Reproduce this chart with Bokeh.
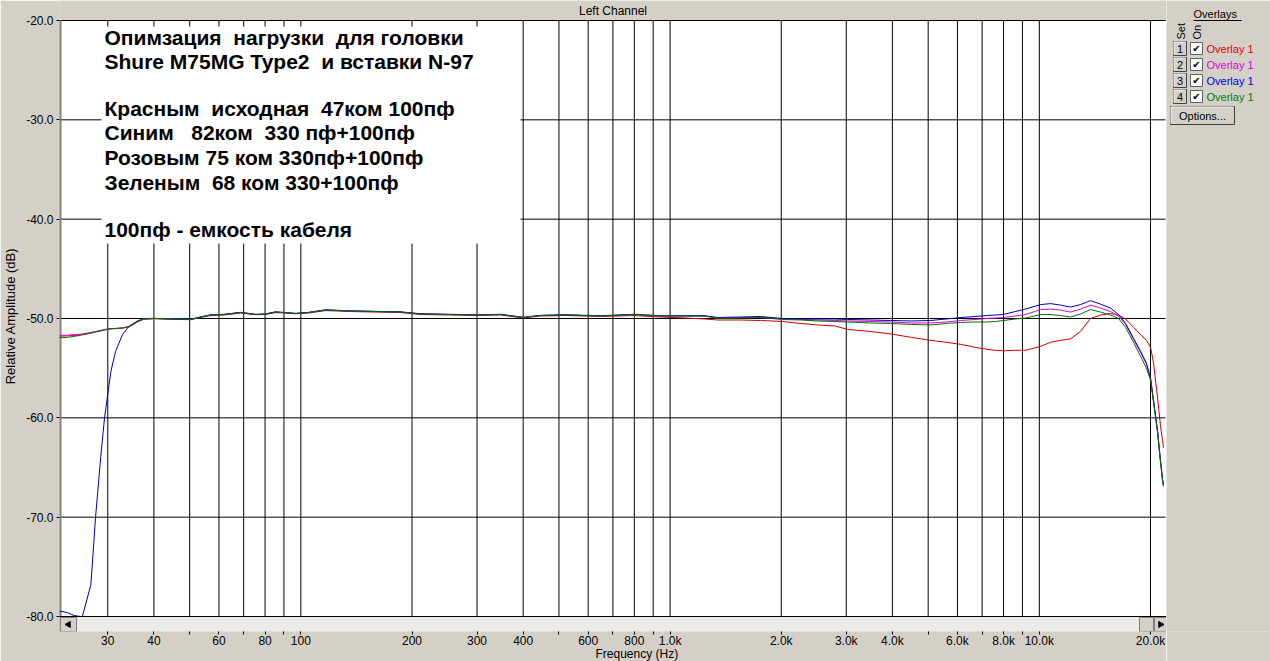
import math
from bokeh.plotting import figure
from bokeh.layouts import row
from bokeh.models import ColumnDataSource, FixedTicker, Label, Title
from bokeh.core.properties import value
from bokeh.embed import file_html
from bokeh.resources import INLINE

# ---------------- data ----------------
freq_hz = [
    22.2, 23.3, 24.3, 25.3, 25.6, 27.0, 27.8, 28.7, 29.4, 30.0,
    30.6, 31.5, 32.9, 34.3, 36.1, 37.5, 40.0, 45.0, 50.3, 53.5,
    57.0, 62.0, 68.7, 75.5, 80.0, 85.5, 96.8, 105, 116.8, 136.4,
    160, 186, 211, 254.5, 300, 347.6, 400, 446, 520, 648,
    800, 942, 1100, 1240, 1345, 1550, 1758, 2018, 2258, 2500,
    2791, 3027, 3472, 3958, 4500, 5077, 5600, 6120, 6700, 7195,
    7612, 8000, 8600, 9180, 10080, 10725, 11400, 12150, 12930, 13760,
    14650, 15590, 16390, 17120, 18000, 18800, 19500, 20010, 20390, 20900,
    21290, 21560, 21690,
]

red_db = [
    -51.78, -51.75, -51.70, -51.65, -51.60, -51.45, -51.35, -51.25, -51.15, -51.10,
    -51.05, -51.02, -50.97, -50.85, -50.35, -50.08, -50.02, -50.08, -50.12, -49.90,
    -49.70, -49.65, -49.45, -49.62, -49.60, -49.40, -49.52, -49.45, -49.20, -49.30,
    -49.35, -49.40, -49.60, -49.65, -49.70, -49.65, -49.95, -49.75, -49.70, -49.80,
    -49.70, -49.85, -49.95, -50.05, -50.15, -50.15, -50.20, -50.30, -50.50, -50.65,
    -50.75, -51.10, -51.30, -51.55, -51.90, -52.20, -52.40, -52.60, -52.90, -53.10,
    -53.20, -53.25, -53.20, -53.20, -52.80, -52.40, -52.20, -52.05, -51.30, -50.00,
    -49.65, -49.50, -49.65, -50.05, -50.90, -51.60, -52.20, -52.90, -54.50, -58.00,
    -60.80, -62.30, -63.00,
]

pink_db = [
    -51.70, -51.68, -51.63, -51.58, -51.55, -51.40, -51.30, -51.20, -51.10, -51.05,
    -51.00, -51.00, -50.95, -50.80, -50.30, -50.05, -50.00, -50.05, -50.10, -49.85,
    -49.65, -49.60, -49.40, -49.60, -49.55, -49.35, -49.50, -49.40, -49.15, -49.25,
    -49.30, -49.35, -49.55, -49.60, -49.65, -49.60, -49.90, -49.70, -49.65, -49.75,
    -49.60, -49.75, -49.75, -49.75, -49.95, -49.90, -49.85, -50.05, -50.10, -50.15,
    -50.20, -50.25, -50.30, -50.35, -50.45, -50.45, -50.35, -50.20, -50.10, -50.00,
    -49.95, -49.90, -49.75, -49.60, -49.10, -49.05, -49.15, -49.35, -49.05, -48.65,
    -48.95, -49.30, -49.75, -50.60, -52.10, -53.40, -54.60, -56.05, -58.35, -61.35,
    -64.35, -66.25, -66.85,
]

blue_db = [
    -79.45, -79.60, -79.90, -80.00, -80.00, -76.80, -70.00, -64.00, -60.00, -57.60,
    -55.30, -53.30, -51.60, -50.75, -50.25, -50.00, -49.98, -50.05, -50.08, -49.85,
    -49.62, -49.58, -49.38, -49.58, -49.55, -49.33, -49.48, -49.38, -49.13, -49.23,
    -49.28, -49.33, -49.52, -49.58, -49.62, -49.58, -49.88, -49.68, -49.62, -49.72,
    -49.58, -49.72, -49.72, -49.72, -49.90, -49.85, -49.80, -50.00, -50.05, -50.05,
    -50.05, -50.10, -50.15, -50.20, -50.25, -50.20, -50.05, -49.90, -49.80, -49.70,
    -49.65, -49.60, -49.30, -49.05, -48.60, -48.50, -48.65, -48.85, -48.60, -48.20,
    -48.55, -48.95, -49.60, -50.50, -52.00, -53.30, -54.50, -56.00, -58.30, -61.30,
    -64.30, -66.20, -66.80,
]

green_db = [
    -51.95, -51.90, -51.80, -51.70, -51.65, -51.48, -51.35, -51.25, -51.15, -51.08,
    -51.02, -51.00, -50.95, -50.80, -50.30, -50.05, -50.00, -50.05, -50.10, -49.85,
    -49.65, -49.60, -49.40, -49.60, -49.55, -49.35, -49.50, -49.40, -49.15, -49.25,
    -49.30, -49.35, -49.55, -49.60, -49.65, -49.60, -49.90, -49.70, -49.65, -49.75,
    -49.60, -49.75, -49.75, -49.75, -50.00, -49.95, -49.90, -50.10, -50.15, -50.25,
    -50.30, -50.35, -50.45, -50.50, -50.60, -50.65, -50.50, -50.40, -50.35, -50.35,
    -50.30, -50.20, -50.05, -49.95, -49.60, -49.60, -49.70, -49.85, -49.55, -49.10,
    -49.35, -49.65, -50.00, -50.90, -52.40, -53.80, -55.00, -56.20, -58.50, -61.50,
    -64.50, -66.30, -66.90,
]

x_ticks = [30, 40, 50, 60, 70, 80, 90, 100, 200, 300, 400, 500, 600, 700, 800, 900,
           1000, 2000, 3000, 4000, 5000, 6000, 7000, 8000, 9000, 10000, 20000]
x_tick_labels = ["30", "40", "", "60", "", "80", "", "100", "200", "300", "400", "",
                 "600", "", "800", "", "1.0k", "2.0k", "3.0k", "4.0k", "", "6.0k", "",
                 "8.0k", "", "10.0k", "20.0k"]
y_ticks = [-80, -70, -60, -50, -40, -30, -20]
y_tick_labels = ["-80.0", "-70.0", "-60.0", "-50.0", "-40.0", "-30.0", "-20.0"]
h_grid_db = [-80, -70, -60, -50, -40, -30, -20]

title_text = "Left Channel"
x_label = "Frequency (Hz)"
y_label = "Relative Amplitude (dB)"
NB = "\u00a0"
note_lines = [
    "Опимзация " + NB + "нагрузки " + NB + "для головки",
    "Shure M75MG Type2 " + NB + "и вставки N-97",
    "Красным " + NB + "исходная " + NB + "47ком 100пф",
    "Синим " + NB + NB + "82ком " + NB + "330 пф+100пф",
    "Розовым 75 ком 330пф+100пф",
    "Зеленым " + NB + "68 ком 330+100пф",
    "100пф - емкость кабеля",
]
overlay_sets = ["1", "2", "3", "4"]
overlay_names = ["Overlay 1", "Overlay 1", "Overlay 1", "Overlay 1"]

# ---------------- styling / layout ----------------
RED, PINK, BLUE, GREEN = "#CC0000", "#DD00DD", "#0000B0", "#007000"
TEXT_COLORS = ["#E00000", "#E000E0", "#0000D0", "#008000"]
GRAY = "#D4D0C8"
FONT = "Liberation Sans"

X_START, X_END = 22.2, 22100.0
FRAME_LEFT, FRAME_RIGHT = 59, 1166
TOP_PX, BOT_PX, SCROLL_BOT = 20, 616, 631
PX_PER_DB = (BOT_PX - TOP_PX) / 60.0
Y_END = -20.0 + TOP_PX / PX_PER_DB
Y_START = -80.0 - (SCROLL_BOT - BOT_PX) / PX_PER_DB
PX_PER_DEC = (FRAME_RIGHT - FRAME_LEFT) / math.log10(X_END / X_START)


def hz(px):
    return X_START * 10 ** ((px - FRAME_LEFT) / PX_PER_DEC)


def db(py):
    return -20.0 - (py - TOP_PX) / PX_PER_DB


p = figure(x_axis_type="log", x_range=(X_START, X_END), y_range=(Y_START, Y_END),
           width=FRAME_RIGHT, height=661,
           min_border_left=FRAME_LEFT, min_border_right=0, min_border_top=0,
           min_border_bottom=661 - SCROLL_BOT,
           output_backend="svg", toolbar_location=None,
           background_fill_color=GRAY, border_fill_color=GRAY)
p.title.visible = False
p.grid.visible = False
p.outline_line_color = None

# axes
p.xaxis.ticker = FixedTicker(ticks=x_ticks)
p.xaxis.major_label_overrides = {t: l for t, l in zip(x_ticks, x_tick_labels)}
p.xaxis.axis_line_color = None
p.xaxis.major_tick_in = 0
p.xaxis.major_tick_out = 3
p.xaxis.minor_tick_out = 0
p.xaxis.minor_tick_in = 0
p.xaxis.major_label_standoff = -1

p.yaxis.ticker = FixedTicker(ticks=y_ticks)
p.yaxis.major_label_overrides = {t: l for t, l in zip(y_ticks, y_tick_labels)}
p.yaxis.axis_line_color = None
p.yaxis.major_tick_in = 0
p.yaxis.major_tick_out = 3
p.yaxis.minor_tick_out = 0
p.yaxis.minor_tick_in = 0
p.yaxis.major_label_standoff = 3
p.yaxis.axis_label = y_label
p.yaxis.axis_label_standoff = 5

for ax in (p.xaxis, p.yaxis):
    ax.major_label_text_font = FONT
    ax.major_label_text_font_size = "12px"
    ax.major_label_text_color = "black"
    ax.axis_label_text_font = FONT
    ax.axis_label_text_font_size = "13px"
    ax.axis_label_text_font_style = "normal"
    ax.axis_label_text_color = "black"
    ax.major_tick_line_color = "black"

p.add_layout(Title(text=x_label, align="left", offset=536, standoff=-11,
                   text_font=FONT, text_font_size="12px", text_font_style="normal",
                   text_color="black"), "below")

# plot area background, borders and grid lines
p.quad(left=[X_START], right=[X_END], bottom=[-80.0], top=[-20.0],
       fill_color="white", line_color=None)
p.segment(x0=x_ticks, y0=[-80] * len(x_ticks), x1=x_ticks, y1=[-20] * len(x_ticks),
          line_color="black", line_width=1)
p.segment(x0=[X_START] * len(h_grid_db), y0=h_grid_db, x1=[X_END] * len(h_grid_db), y1=h_grid_db,
          line_color="black", line_width=1)
p.segment(x0=[X_START], y0=[Y_START], x1=[X_START], y1=[-20.0], line_color="#808080", line_width=4)
p.segment(x0=[X_END], y0=[Y_START], x1=[X_END], y1=[-20.0], line_color="white", line_width=2)

# white note box
p.quad(left=[hz(101)], right=[hz(520)], bottom=[db(243)], top=[db(26)],
       fill_color="white", line_color=None)

# curves
src = ColumnDataSource(dict(f=freq_hz, r=red_db, m=pink_db, b=blue_db, g=green_db))
p.line("f", "r", source=src, line_color=RED, line_width=1)
p.line("f", "m", source=src, line_color=PINK, line_width=1)
p.line("f", "b", source=src, line_color=BLUE, line_width=1)
p.line("f", "g", source=src, line_color=GREEN, line_width=1)

# scrollbar
p.quad(left=[X_START], right=[X_END], bottom=[Y_START], top=[-80.0],
       fill_color="#ECEAE6", line_color=None)
p.segment(x0=[X_START], y0=[-80], x1=[X_END], y1=[-80], line_color="black", line_width=1)
p.quad(left=[hz(60), hz(1139), hz(1154)], right=[hz(76), hz(1153), hz(1166)],
       bottom=[db(631)] * 3, top=[db(617)] * 3,
       fill_color=GRAY, line_color="#808080")
p.scatter(x=[math.sqrt(hz(60) * hz(76))], y=[db(624)], marker="triangle", angle=math.pi / 2,
          size=6, fill_color="black", line_color="black")
p.scatter(x=[math.sqrt(hz(1154) * hz(1166))], y=[db(624)], marker="triangle", angle=-math.pi / 2,
          size=6, fill_color="black", line_color="black")

# title inside the top strip
p.add_layout(Label(x=hz(612.5), y=db(10), text=title_text, text_font=FONT,
                   text_font_size="12px", text_align="center", text_baseline="middle",
                   text_color="black"))

# note text
note_y = [37, 61, 108, 132, 157, 182, 229]
for txt, yy in zip(note_lines, note_y):
    p.add_layout(Label(x=hz(104), y=db(yy), text=txt, text_font=FONT, text_font_style="bold",
                       text_font_size="21px", text_baseline="middle", text_color="black"))

# ---------------- overlay side panel ----------------
PW = 1270 - FRAME_RIGHT
q = figure(width=PW, height=661, x_range=(0, PW), y_range=(0, SCROLL_BOT),
           x_axis_type=None, y_axis_type=None,
           min_border_left=0, min_border_right=0, min_border_top=0,
           min_border_bottom=661 - SCROLL_BOT,
           output_backend="svg", toolbar_location=None,
           background_fill_color=GRAY, border_fill_color=GRAY)
q.title.visible = False
q.grid.visible = False
q.outline_line_color = None


def ly(py):
    return SCROLL_BOT - py


def lx(px):
    return px - FRAME_RIGHT


txt_kw = dict(text_font=value(FONT), text_font_size=value("11px"), text_baseline="middle")
q.text(x=[lx(1193)], y=[ly(13)], text=["Overlays"], text_color="black", **txt_kw)
q.segment(x0=[lx(1193)], y0=[ly(20)], x1=[lx(1241)], y1=[ly(20)], line_color="black")
q.text(x=[lx(1180), lx(1196)], y=[ly(39), ly(39)], text=["Set", "On"], angle=math.pi / 2,
       text_color="black", **txt_kw)

n = len(overlay_sets)
rows_y = [ly(48 + 16 * i) for i in range(n)]
# "Set" buttons
q.quad(left=[lx(1173)] * n, right=[lx(1186)] * n, bottom=[y - 7 for y in rows_y],
       top=[y + 7 for y in rows_y], fill_color=GRAY, line_color="#404040")
q.multi_line(xs=[[lx(1173.5), lx(1173.5), lx(1185)] for _ in rows_y],
             ys=[[y - 6, y + 6.5, y + 6.5] for y in rows_y], line_color="white")
q.text(x=[lx(1179.5)] * n, y=rows_y, text=overlay_sets, text_align="center",
       text_color="black", **txt_kw)
# check boxes
q.quad(left=[lx(1190)] * n, right=[lx(1202)] * n, bottom=[y - 6 for y in rows_y],
       top=[y + 6 for y in rows_y], fill_color="white", line_color="#606060")
q.text(x=[lx(1196)] * n, y=rows_y, text=["✔"] * n, text_align="center", text_baseline="middle",
       text_font=value("DejaVu Sans"), text_font_size=value("10px"), text_color="black")
# overlay names
osrc = ColumnDataSource(dict(x=[lx(1206)] * n, y=rows_y, t=overlay_names, c=TEXT_COLORS))
q.text(x="x", y="y", text="t", text_color="c", source=osrc, **txt_kw)
# options button
q.quad(left=[lx(1170)], right=[lx(1234)], bottom=[ly(124)], top=[ly(106)],
       fill_color=GRAY, line_color="#404040")
q.multi_line(xs=[[lx(1170.5), lx(1170.5), lx(1233)]], ys=[[ly(123), ly(106.5), ly(106.5)]],
             line_color="white")
q.text(x=[lx(1202)], y=[ly(115)], text=["Options..."], text_align="center",
       text_color="black", **txt_kw)

open("out.html", "w").write(file_html(row(p, q), INLINE))
